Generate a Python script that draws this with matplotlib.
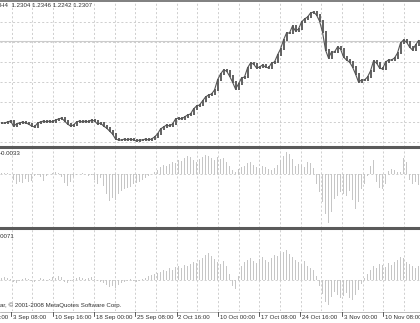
#!/usr/bin/env python3
"""
H4 price chart with two oscillator windows, drawn the way the trading terminal shows it.
"""
import matplotlib
matplotlib.use('Agg')
import matplotlib.pyplot as plt
from matplotlib.lines import Line2D

plt.rcParams['font.family'] = ['Liberation Sans', 'DejaVu Sans']

# closing prices, one per bar, oldest first
closes = [
    1.1895, 1.1895, 1.1900, 1.1905, 1.1880, 1.1890, 1.1895, 1.1900, 1.1895, 1.1890,
    1.1880, 1.1875, 1.1895, 1.1900, 1.1905, 1.1900, 1.1905, 1.1900, 1.1910, 1.1915,
    1.1920, 1.1905, 1.1890, 1.1880, 1.1885, 1.1900, 1.1905, 1.1900, 1.1905, 1.1900,
    1.1910, 1.1905, 1.1890, 1.1895, 1.1880, 1.1870, 1.1855, 1.1840, 1.1815, 1.1810,
    1.1810, 1.1815, 1.1810, 1.1815, 1.1810, 1.1805, 1.1810, 1.1810, 1.1815, 1.1810,
    1.1815, 1.1825, 1.1840, 1.1865, 1.1875, 1.1885, 1.1880, 1.1890, 1.1915, 1.1920,
    1.1915, 1.1925, 1.1935, 1.1940, 1.1965, 1.1980, 1.1985, 1.2005, 1.2025, 1.2035,
    1.2040, 1.2060, 1.2110, 1.2140, 1.2160, 1.2155, 1.2130, 1.2100, 1.2065, 1.2090,
    1.2120, 1.2125, 1.2170, 1.2195, 1.2190, 1.2170, 1.2175, 1.2185, 1.2175, 1.2170,
    1.2195, 1.2200, 1.2235, 1.2265, 1.2310, 1.2345, 1.2345, 1.2380, 1.2355, 1.2365,
    1.2400, 1.2415, 1.2425, 1.2445, 1.2450, 1.2435, 1.2405, 1.2350, 1.2260, 1.2220,
    1.2250, 1.2250, 1.2275, 1.2265, 1.2225, 1.2210, 1.2200, 1.2175, 1.2140, 1.2100,
    1.2110, 1.2110, 1.2125, 1.2155, 1.2205, 1.2195, 1.2170, 1.2165, 1.2200, 1.2210,
    1.2210, 1.2220, 1.2245, 1.2295, 1.2310, 1.2300, 1.2275, 1.2260, 1.2285, 1.2307,
]

# first indicator window (histogram)
macd = [
    0.0003, 0.0003, 0.0003, 0.0, -0.0018, -0.0030, -0.0024, -0.0027, -0.0015, -0.0024,
    -0.0021, -0.0006, -0.0003, -0.0009, -0.0021, -0.0006, 0.0, 0.0003, 0.0006, 0.0003,
    -0.0009, -0.0027, -0.0036, -0.0024, -0.0009, -0.0003, 0.0, 0.0003, 0.0, -0.0006,
    -0.0003, -0.0018, -0.0030, -0.0012, -0.0036, -0.0060, -0.0081, -0.0072, -0.0078, -0.0060,
    -0.0051, -0.0045, -0.0042, -0.0039, -0.0030, -0.0027, -0.0024, -0.0018, -0.0012, -0.0006,
    0.0, 0.0006, 0.0012, 0.0021, 0.0027, 0.0024, 0.0030, 0.0036, 0.0033, 0.0042,
    0.0039, 0.0048, 0.0054, 0.0051, 0.0042, 0.0036, 0.0045, 0.0051, 0.0057, 0.0054,
    0.0048, 0.0042, 0.0051, 0.0045, 0.0048, 0.0036, 0.0024, 0.0012, 0.0006, 0.0015,
    0.0021, 0.0024, 0.0033, 0.0036, 0.0027, 0.0021, 0.0018, 0.0024, 0.0021, 0.0015,
    0.0012, 0.0018, 0.0027, 0.0042, 0.0054, 0.0066, 0.0060, 0.0045, 0.0024, 0.0030,
    0.0027, 0.0021, 0.0036, 0.0033, 0.0018, -0.0030, -0.0054, -0.0084, -0.0120, -0.0147,
    -0.0114, -0.0075, -0.0066, -0.0054, -0.0060, -0.0066, -0.0051, -0.0078, -0.0105, -0.0084,
    -0.0045, -0.0030, -0.0006, 0.0024, 0.0042, -0.0024, -0.0042, -0.0045, -0.0030, 0.0009,
    0.0015, 0.0012, 0.0006, 0.0006, 0.0048, 0.0036, -0.0018, -0.0030, -0.0024, -0.0033,
]

# second indicator window (histogram)
osc = [
    0.0010, 0.0015, 0.0010, 0.0005, -0.0010, -0.0015, -0.0005, 0.0005, 0.0010, 0.0005,
    -0.0005, -0.0010, 0.0, 0.0010, 0.0005, -0.0005, 0.0005, 0.0015, 0.0010, 0.0020,
    0.0015, -0.0010, -0.0015, -0.0005, 0.0005, 0.0010, 0.0015, 0.0010, 0.0005, 0.0010,
    0.0015, 0.0005, -0.0005, -0.0010, -0.0015, -0.0025, -0.0035, -0.0030, -0.0040, -0.0025,
    -0.0015, -0.0010, -0.0005, 0.0005, -0.0005, -0.0010, -0.0005, 0.0005, 0.0010, 0.0020,
    0.0025, 0.0030, 0.0035, 0.0040, 0.0050, 0.0045, 0.0060, 0.0050, 0.0065, 0.0070,
    0.0060, 0.0075, 0.0070, 0.0080, 0.0090, 0.0085, 0.0100, 0.0110, 0.0125, 0.0135,
    0.0120, 0.0105, 0.0090, 0.0080, 0.0095, 0.0070, 0.0030, -0.0030, -0.0045, 0.0020,
    0.0070, 0.0090, 0.0100, 0.0110, 0.0095, 0.0085, 0.0105, 0.0115, 0.0100, 0.0090,
    0.0110, 0.0125, 0.0120, 0.0135, 0.0140, 0.0150, 0.0130, 0.0115, 0.0100, 0.0090,
    0.0080, 0.0095, 0.0070, 0.0060, 0.0050, 0.0020, -0.0030, -0.0070, -0.0110, -0.0125,
    -0.0085, -0.0060, -0.0075, -0.0090, -0.0080, -0.0065, -0.0090, -0.0100, -0.0075, -0.0050,
    -0.0020, 0.0010, 0.0030, 0.0050, 0.0070, 0.0060, 0.0080, 0.0075, 0.0065, 0.0085,
    0.0075, 0.0090, 0.0100, 0.0115, 0.0110, 0.0090, 0.0080, 0.0070, 0.0060, 0.0071,
]

date_labels = ["27 Aug 00:00", "3 Sep 08:00", "10 Sep 16:00", "18 Sep 00:00",
               "25 Sep 08:00", "2 Oct 16:00", "10 Oct 00:00", "17 Oct 08:00",
               "24 Oct 16:00", "3 Nov 00:00", "10 Nov 08:00"]
price_grid = [1.18, 1.19, 1.20, 1.21, 1.22, 1.23, 1.24]

header = "H4  1.2304 1.2346 1.2242 1.2307"
macd_value = "-0.0033"
osc_value = "0.0071"
copyright_text = "ar, \u00a9 2001-2008 MetaQuotes Software Corp."

W, H = 420, 323
GRID = '#c8c8c8'
TEXT = '#303030'
FS = 4.4
DOTS = (0, (2.5, 2.5))


def fy(py):
    return 1 - py / H


def to_bar(px):
    # pixel column -> bar index (3 px per bar)
    return px / (W / len(closes)) - 0.5


def add_panel(fig, top, bottom):
    ax = fig.add_axes([0, fy(bottom), 1, (bottom - top) / H])
    ax.set_axis_off()
    ax.set_xlim(-0.5, len(closes) - 0.5)
    for k in range(-1, 21):
        ax.axvline(to_bar(11.5 + 20.65 * k), color=GRID, lw=0.6, ls=DOTS, zorder=0)
    return ax


def main():
    fig = plt.figure(figsize=(W / 100, H / 100), dpi=100)
    fig.patch.set_facecolor('white')
    n = len(closes)
    idx = list(range(n))

    # price window
    ax = add_panel(fig, 2, 147)
    ax.set_ylim(1.1775, 1.2500)
    for p in price_grid:
        ax.axhline(p, color=GRID, lw=0.6, ls=DOTS, zorder=0)
    ax.axhline(closes[-1], color='#cccccc', lw=0.8, zorder=1)
    opens = [closes[0]] + closes[:-1]
    lo = [min(o, c) - 0.0003 for o, c in zip(opens, closes)]
    hi = [max(o, c) + 0.0003 for o, c in zip(opens, closes)]
    ax.vlines(idx, lo, hi, colors='#555555', lw=1.3, zorder=3)
    ax.plot(idx, closes, color='#555555', lw=0.8, zorder=3)

    # first indicator
    ax2 = add_panel(fig, 147, 228)
    ax2.set_ylim(-0.0162, 0.0081)
    ax2.axhline(0, color=GRID, lw=0.6, ls=DOTS, zorder=0)
    ax2.bar(idx, macd, width=0.62, color='#c6c6c6', linewidth=0, zorder=2)

    # second indicator
    ax3 = add_panel(fig, 228, 311)
    ax3.set_ylim(-0.0155, 0.026)
    ax3.axhline(0, color=GRID, lw=0.6, ls=DOTS, zorder=0)
    ax3.bar(idx, osc, width=0.62, color='#c6c6c6', linewidth=0, zorder=2)

    # window borders
    fig.add_artist(Line2D([0, 1], [fy(1.2)] * 2, color='#6a6a6a', lw=1.2))
    for py in (147, 228):
        fig.add_artist(Line2D([0, 1], [fy(py)] * 2, color='#5a5a5a', lw=2.2))
    fig.add_artist(Line2D([0, 1], [fy(311.5)] * 2, color='#a0a0a0', lw=0.5))

    # time axis
    for k, lab in enumerate(date_labels):
        px = -30 + 41.3 * k
        fig.add_artist(Line2D([px / W] * 2, [fy(311.5), fy(316)], color='#404040', lw=0.6))
        fig.text((px + 2) / W, fy(317.5), lab, fontsize=FS, color=TEXT,
                 ha='left', va='center')

    fig.text(0.0, fy(5.5), header, fontsize=FS, color=TEXT, ha='left', va='center')
    fig.text(0.0, fy(153.5), macd_value, fontsize=FS, color=TEXT, ha='left', va='center')
    fig.text(-4 / W, fy(236.5), osc_value, fontsize=FS, color=TEXT, ha='left', va='center')
    fig.text(0.0, fy(305), copyright_text, fontsize=FS, color=TEXT, ha='left', va='center')

    fig.savefig('out.png', dpi=100)


if __name__ == "__main__":
    main()
